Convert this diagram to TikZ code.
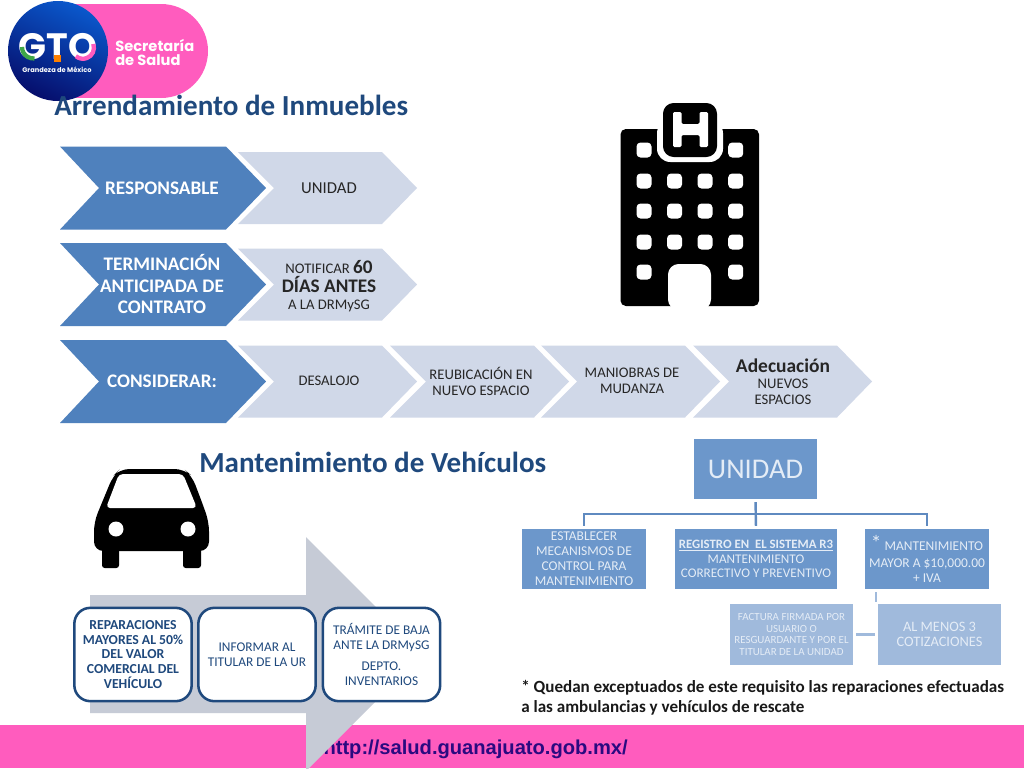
\documentclass[tikz,border=0pt]{standalone}
\usepackage{fontspec}
\setmainfont{Carlito}
\newfontfamily\logofont{Poppins}
\newfontfamily\urlfont{Liberation Sans}
\usepackage{xcolor}
\definecolor{gto-pink}{HTML}{FF5CBE}
\definecolor{gto-navy}{HTML}{060E6C}
\definecolor{gto-blue}{HTML}{0A58CC}
\definecolor{gto-green}{HTML}{3FA648}
\definecolor{title-blue}{HTML}{1F497D}
\definecolor{chevron-blue}{HTML}{4F81BD}
\definecolor{chevron-light}{HTML}{D0D8E8}
\definecolor{arrow-grey}{HTML}{C6CBD6}
\definecolor{org-blue}{HTML}{6C97CB}
\definecolor{org-light}{HTML}{A0BADC}
\definecolor{org-line}{HTML}{5F8AC0}
\definecolor{org-text}{HTML}{E4ECF6}
\definecolor{url-ink}{HTML}{2A0A80}
\newcommand{\px}[2]{\fontsize{#1}{#2}\selectfont}
\tikzset{
    chevtext/.style={align=center, inner sep=0pt, text=white, font=\bfseries\px{14.4}{16}},
    lighttext/.style={align=center, inner sep=0pt, text=black!85, font=\px{11}{12}},
    titletext/.style={anchor=west, inner sep=0pt, text=title-blue, font=\bfseries\px{21.8}{24}},
    stepcard/.style={draw=title-blue, line width=1.9pt, fill=white, rounded corners=12pt, minimum width=88pt, minimum height=70pt, inner sep=0pt, align=center, text=title-blue, font=\px{10}{11}},
    orgbox/.style={fill=org-blue, inner sep=0pt, align=center, text=org-text, minimum height=45pt, font=\px{10.1}{11.2}},
    orgsub/.style={orgbox, fill=org-light, minimum width=92.5pt, minimum height=46pt},
    orgline/.style={draw=org-line, line width=1.8pt, shorten <=2.2pt, shorten >=2.2pt},
    orgfaint/.style={draw=org-light, line width=1.8pt}
}
\begin{document}
\begin{tikzpicture}[x=0.75pt, y=-0.75pt]

    \useasboundingbox (0, 0) rectangle (1024, 768);
    \fill[white] (0, 0) rectangle (1024, 768);

    % Footer
    \fill[gto-pink] (0, 725) rectangle (1024, 768);
    \node[anchor=east, inner sep=0pt, text=url-ink, font=\urlfont\bfseries\px{15.1}{18}] (url) at (628, 749) {http://salud.guanajuato.gob.mx/};

    % Logo
    \fill[gto-pink] (60, 4) rectangle (161, 98);
    \fill[gto-pink] (161, 51) circle (47);
    \shade[top color=gto-blue, bottom color=gto-navy, shading angle=-25] (58, 51) circle (50);
    \node[inner sep=0pt, text=white, font=\logofont\bfseries\px{27.5}{28}] (gto) at (58, 47) {GTO};
    \draw[gto-green, line width=3.2pt] (22, 47) arc (180:85:11.5);
    \fill[orange] (53.5, 55) rectangle (60.5, 61.5);
    \draw[gto-pink, line width=3.2pt] (93.3, 44) arc (-20:130:11);
    \node[inner sep=0pt, text=white, font=\logofont\bfseries\px{5}{6}] (grandeza) at (57, 70) {Grandeza de México};
    \node[anchor=west, align=left, inner sep=0pt, text=white, font=\logofont\bfseries\px{11}{10.5}] (secretaria) at (115, 52) {Secretaría\\de Salud};

    % Titles
    \node[titletext] (titulo) at (54, 105) {Arrendamiento de Inmuebles};
    \node[titletext] (vehiculos) at (199, 462) {Mantenimiento de Vehículos};

    % Blue chevrons
    \foreach \cy in {188, 284.5, 381.5} {
        \fill[chevron-blue] (60, \cy-41.5) -- (226, \cy-41.5) -- (266, \cy) -- (226, \cy+41.5) -- (60, \cy+41.5) -- (99, \cy) -- cycle;
    }

    % Light chevrons
    \foreach \cx/\cy in {238/188, 238/284.5, 238/381.5, 390/381.5, 541/381.5, 693/381.5} {
        \fill[chevron-light] (\cx, \cy-36) -- (\cx+144, \cy-36) -- (\cx+179, \cy) -- (\cx+144, \cy+36) -- (\cx, \cy+36) -- (\cx+36, \cy) -- cycle;
    }

    \node[chevtext] (responsable) at (162, 188) {RESPONSABLE};
    \node[chevtext] (terminacion) at (162, 284) {TERMINACIÓN\\ANTICIPADA DE\\CONTRATO};
    \node[chevtext] (considerar) at (162, 381) {CONSIDERAR:};

    \node[lighttext, font=\px{12.5}{14}] (unidadresp) at (329, 188) {UNIDAD};
    \node[lighttext] (notificar) at (329, 286) {NOTIFICAR {\bfseries\px{14.4}{15}60}\\[1pt]{\bfseries\px{14.4}{15}DÍAS ANTES}\\[1pt]A LA DRMySG};
    \node[lighttext] (desalojo) at (329, 381) {DESALOJO};
    \node[lighttext] (reubicacion) at (481, 381) {REUBICACIÓN EN\\NUEVO ESPACIO};
    \node[lighttext] (maniobras) at (632, 381) {MANIOBRAS DE\\MUDANZA};
    \node[lighttext] (adecuacion) at (783, 382) {{\bfseries\px{14.6}{15}Adecuación}\\NUEVOS\\ESPACIOS};

    % Hospital
    \fill[black, rounded corners=4pt] (620.5, 129) rectangle (759, 306);
    \fill[white, rounded corners=10pt] (657, 120) rectangle (723, 162);
    \fill[black, rounded corners=8pt] (663, 103) rectangle (717, 157);
    \fill[white, rounded corners=1pt] (673, 112) -- (681.5, 112) -- (681.5, 124) -- (699.5, 124) -- (699.5, 112) -- (708, 112) -- (708, 147) -- (699.5, 147) -- (699.5, 135) -- (681.5, 135) -- (681.5, 147) -- (673, 147) -- cycle;
    \foreach \wx/\wy in {644/150, 735.7/150, 644/272, 735.7/272} {
        \fill[white, rounded corners=3pt] (\wx-7.5, \wy-7.5) rectangle (\wx+7.5, \wy+7.5);
    }
    \foreach \wy in {181, 211, 242} {
        \foreach \wx in {644, 674.5, 705, 735.7} {
            \fill[white, rounded corners=3pt] (\wx-7.5, \wy-7.5) rectangle (\wx+7.5, \wy+7.5);
        }
    }
    \fill[white, rounded corners=8pt] (668, 310) -- (668, 264) -- (711, 264) -- (711, 310) -- cycle;

    % Car
    \fill[black, rounded corners=7pt] (94, 551) -- (94, 522) -- (101, 505) -- (113, 476) -- (120, 469) -- (184, 469) -- (192, 476) -- (203, 505) -- (209, 522) -- (209, 551) -- cycle;
    \fill[black, rounded corners=2pt] (102, 545) rectangle (119, 568);
    \fill[black, rounded corners=2pt] (183, 545) rectangle (201, 568);
    \fill[white, rounded corners=3pt] (106, 508) -- (119, 474) -- (183, 474) -- (197, 508) -- cycle;
    \fill[white] (116, 529) circle (7.5);
    \fill[white] (188, 529) circle (7.5);

    % Big arrow
    \fill[arrow-grey] (90, 595) -- (306, 595) -- (306, 537) -- (423, 654) -- (306, 771) -- (306, 713) -- (90, 713) -- cycle;

    % Cards on the arrow
    \node[stepcard, font=\bfseries\px{10.3}{11}] (reparaciones) at (133, 654.5) {REPARACIONES\\MAYORES AL 50\%\\DEL VALOR\\COMERCIAL DEL\\VEHÍCULO};
    \node[stepcard] (informar) at (257, 654.5) {INFORMAR AL\\TITULAR DE LA UR};
    \node[stepcard] (tramite) at (381.5, 654.5) {TRÁMITE DE BAJA\\ANTE LA DRMySG\\[5pt]DEPTO.\\INVENTARIOS};

    % Org chart
    \node[orgbox, minimum width=92.5pt, font=\px{21.4}{24}] (unidad) at (755.5, 469) {UNIDAD};
    \node[orgbox, minimum width=93pt] (establecer) at (584, 559) {ESTABLECER\\MECANISMOS DE\\CONTROL PARA\\MANTENIMIENTO};
    \node[orgbox, minimum width=121.5pt, font=\px{9.9}{11}] (registro) at (756, 559) {{\bfseries\px{9.6}{11}\underline{REGISTRO EN\ \ EL SISTEMA R3}}\\MANTENIMIENTO\\CORRECTIVO Y PREVENTIVO};
    \node[orgbox, minimum width=93pt] (mantenimiento) at (927, 559) {{\px{16}{12}*} MANTENIMIENTO\\[1pt]MAYOR A \$10,000.00\\+ IVA};
    \node[orgsub, font=\px{8.2}{8.9}] (factura) at (791.5, 634.5) {FACTURA FIRMADA POR\\USUARIO O\\RESGUARDANTE Y POR EL\\TITULAR DE LA UNIDAD};
    \node[orgsub, font=\px{10.8}{11.2}] (cotizaciones) at (939.5, 634.5) {AL MENOS 3\\COTIZACIONES};

    \coordinate (bus) at (755.5, 514);
    \draw[orgline] (unidad.south) -- (registro.north);
    \draw[orgline] (establecer.north) |- (bus) -| (mantenimiento.north);
    \draw[orgfaint, shorten <=2.2pt] (mantenimiento.south -| cotizaciones.west) ++(-1.5, 0) -- ++(0, 13);
    \draw[orgfaint, shorten <=2.2pt, shorten >=2.2pt] (factura.east) -- (cotizaciones.west);

    % Note
    \node[anchor=north west, align=left, inner sep=0pt, text=black!90, font=\bfseries\px{12.8}{15}] (nota) at (521, 680) {* Quedan exceptuados de este requisito las reparaciones efectuadas\\a las ambulancias y vehículos de rescate};

\end{tikzpicture}
\end{document}
